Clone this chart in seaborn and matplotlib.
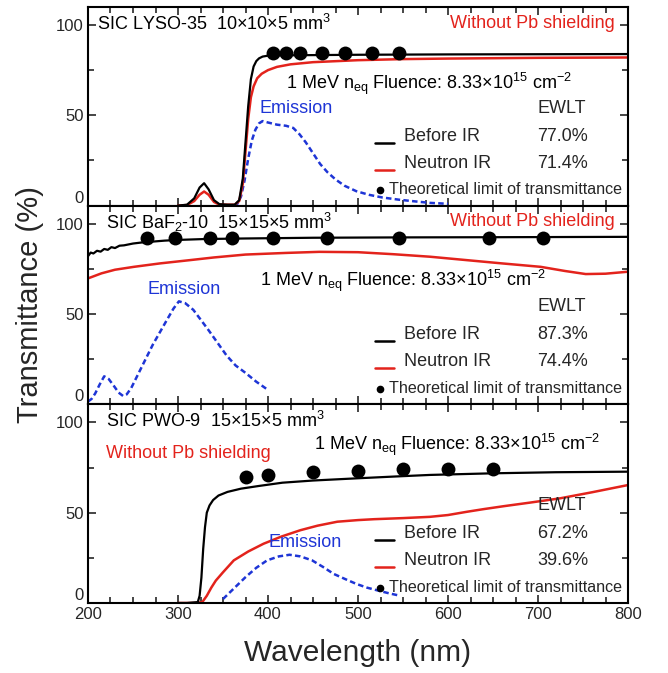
import matplotlib
matplotlib.use("Agg")
import matplotlib.pyplot as plt
import seaborn as sns
import pandas as pd
from matplotlib.ticker import MultipleLocator

# ---------------- data ----------------
# LYSO-35
lyso_before_wl = [300, 310, 318, 324, 329, 334, 340, 346, 355, 363, 368, 372, 375, 378, 381, 384, 387, 390, 394, 400, 420, 500, 600, 700, 800]
lyso_before_t = [0, 0.5, 4, 10, 12.4, 9, 3, 0.8, 0.5, 0.5, 3, 15, 35, 55, 70, 77, 80, 81.5, 82.5, 83, 83.2, 83.5, 83.7, 83.8, 83.9]
lyso_after_wl = [300, 310, 318, 324, 329, 334, 340, 346, 355, 363, 368, 372, 375, 378, 381, 384, 388, 393, 400, 410, 425, 450, 500, 550, 600, 700, 800]
lyso_after_t = [0, 0.3, 2.5, 6, 7.8, 6, 2, 0.5, 0.5, 0.5, 2.5, 12, 30, 48, 60, 66, 70.5, 73, 75, 76.8, 78.2, 79.4, 80.5, 81.1, 81.4, 81.8, 82.0]
lyso_em_wl = [362, 366, 370, 374, 378, 382, 386, 390, 394, 400, 410, 420, 428, 435, 442, 450, 458, 466, 475, 485, 498, 512, 527, 545, 560, 580, 600]
lyso_em = [0, 1, 5, 14, 26, 36, 42, 45.5, 46.8, 46, 44.8, 44.2, 43, 39.5, 35, 29, 23, 18.5, 14.5, 11, 8, 6, 4.5, 3.3, 2.5, 1.5, 1]
lyso_lim_wl = [405, 420, 435, 460, 485, 515, 545]
lyso_lim_t = [84.4, 84.4, 84.4, 84.4, 84.4, 84.4, 84.4]

# BaF2-10
baf_before_wl = [200, 203, 206, 210, 214, 218, 222, 226, 230, 235, 240, 250, 260, 270, 285, 300, 330, 375, 450, 550, 650, 800]
baf_before_t = [82, 84, 83.5, 85, 84.5, 86, 85.5, 87, 86.5, 87.8, 88, 89, 89.6, 90, 90.6, 91, 91.5, 91.8, 92.2, 92.4, 92.5, 92.7]
baf_after_wl = [200, 215, 230, 251, 280, 313, 340, 375, 420, 457, 500, 539, 580, 621, 660, 703, 730, 753, 775, 800]
baf_after_t = [69.7, 72.5, 74.5, 76.1, 78, 79.8, 81.3, 82.9, 83.8, 84.4, 84.2, 83.1, 81.7, 79.8, 78, 76.1, 73.8, 72.1, 72.3, 73.4]
baf_em_wl = [200, 204, 208, 213, 218, 223, 229, 234, 239, 243, 248, 255, 264, 272, 280, 288, 295, 301, 308, 317, 325, 334, 344, 354, 364, 375, 387, 399]
baf_em = [1.5, 3, 6, 11, 15.5, 14, 10, 6.5, 4.6, 5.5, 9, 16, 25, 33, 40, 47, 53, 57, 56, 52.3, 47, 41, 34, 27, 21.5, 17.4, 12.5, 8.3]
baf_lim_wl = [265, 297, 335, 360, 405, 465, 545, 645, 705]
baf_lim_t = [92.3, 92.3, 92.3, 92.3, 92.3, 92.3, 92.3, 92.3, 92.3]

# PWO-9
pwo_before_wl = [300, 310, 322, 324, 326, 328, 330, 332, 335, 339, 345, 355, 370, 390, 416, 450, 498, 540, 580, 650, 720, 800]
pwo_before_t = [0, 0, 0.5, 4, 14, 30, 42, 50, 54, 57, 59.5, 61.5, 63.3, 64.8, 66.6, 67.8, 69, 70, 70.9, 71.8, 72.4, 72.7]
pwo_after_wl = [300, 320, 327, 332, 337, 342, 350, 362, 378, 395, 415, 436, 455, 477, 500, 518, 550, 580, 600, 621, 640, 662, 690, 724, 760, 800]
pwo_after_t = [0, 0, 0.5, 4, 8.5, 12.4, 17, 23.6, 28.5, 32.8, 36.8, 40.3, 42.8, 45, 45.9, 46.4, 47, 47.7, 48.7, 50.5, 52, 53.6, 55.5, 57.9, 61.3, 65.3]
pwo_em_wl = [350, 362, 375, 387, 399, 412, 424, 436, 449, 461, 473, 486, 498, 510, 523, 535, 547]
pwo_em = [2.2, 8, 14.3, 19.5, 23.6, 25.8, 26.7, 25.8, 23.6, 20, 16.1, 13.2, 10.6, 8.5, 6.8, 5.3, 4.0]
pwo_lim_wl = [375, 400, 450, 500, 550, 600, 650]
pwo_lim_t = [69.6, 70.7, 72.4, 73.2, 74.0, 74.2, 74.4]

titles = ["SIC LYSO-35  10\u00d710\u00d75 mm$^3$",
          "SIC BaF$_2$-10  15\u00d715\u00d75 mm$^3$",
          "SIC PWO-9  15\u00d715\u00d75 mm$^3$"]
ewlt_before = ["77.0%", "87.3%", "67.2%"]
ewlt_after = ["71.4%", "74.4%", "39.6%"]
x_ticks = [200, 300, 400, 500, 600, 700, 800]
y_ticks = [0, 50, 100]
y_tick_labels = ["0", "50", "100"]

# ---------------- style ----------------
sns.set_style("ticks")
plt.rcParams['font.family'] = ['Liberation Sans', 'DejaVu Sans']
plt.rcParams['mathtext.fontset'] = 'custom'
plt.rcParams['mathtext.rm'] = 'Liberation Sans'
plt.rcParams['mathtext.it'] = 'Liberation Sans:italic'
plt.rcParams['mathtext.default'] = 'regular'

BLACK = "#000000"
RED = "#e3231c"
BLUE = "#1e35d6"

fig = plt.figure(figsize=(6.68, 6.73), dpi=100)
L, W = 88 / 668, 540 / 668
H = 198.7 / 673
B0 = 1 - 603 / 673
axes = [fig.add_axes([L, B0 + 2 * H, W, H]),
        fig.add_axes([L, B0 + H, W, H]),
        fig.add_axes([L, B0, W, H])]

panels = [
    (lyso_before_wl, lyso_before_t, lyso_after_wl, lyso_after_t, lyso_em_wl, lyso_em, lyso_lim_wl, lyso_lim_t),
    (baf_before_wl, baf_before_t, baf_after_wl, baf_after_t, baf_em_wl, baf_em, baf_lim_wl, baf_lim_t),
    (pwo_before_wl, pwo_before_t, pwo_after_wl, pwo_after_t, pwo_em_wl, pwo_em, pwo_lim_wl, pwo_lim_t),
]

fs = 13
for i, (ax, p) in enumerate(zip(axes, panels)):
    bw, bt, aw, at, ew, e, lw_, lt = p
    sns.lineplot(x=ew, y=e, ax=ax, color=BLUE, lw=1.8, sort=False, estimator=None,
                 linestyle=(0, (2.2, 1.3)))
    sns.lineplot(x=aw, y=at, ax=ax, color=RED, lw=1.8, sort=False, estimator=None)
    sns.lineplot(x=bw, y=bt, ax=ax, color=BLACK, lw=1.6, sort=False, estimator=None)
    sns.scatterplot(x=lw_, y=lt, ax=ax, color=BLACK, s=100, edgecolor=BLACK, linewidth=0, zorder=5)

    ax.set_xlim(200, 800)
    ax.set_ylim(0, 110)
    ax.set_xticks(x_ticks)
    ax.set_yticks(y_ticks)
    ax.set_yticklabels(y_tick_labels)
    ax.xaxis.set_minor_locator(MultipleLocator(25))
    ax.yaxis.set_minor_locator(MultipleLocator(25))
    ax.tick_params(which='both', direction='in', top=True, right=True, width=1.2, labelsize=12)
    ax.tick_params(which='major', length=6)
    ax.tick_params(which='minor', length=4)
    ax.tick_params(axis='y', pad=3)
    ax.tick_params(axis='x', pad=3)
    ax.get_yticklabels()[0].set_va('bottom')
    for s in ax.spines.values():
        s.set_linewidth(1.5)
        s.set_color('black')
    ax.set_xlabel("")
    ax.set_ylabel("")
    if i < 2:
        ax.tick_params(labelbottom=False)

    T = ax.transAxes
    xs = 0.017 if i == 0 else 0.033
    ax.text(xs, 0.915, titles[i], transform=T, fontsize=fs, va='center', ha='left', color=BLACK)
    if i < 2:
        ax.text(0.975, 0.918, "Without Pb shielding", transform=T, fontsize=fs, va='center', ha='right', color=RED)
    else:
        ax.text(0.033, 0.754, "Without Pb shielding", transform=T, fontsize=fs, va='center', ha='left', color=RED)
    flu = "1 MeV n$_{eq}$ Fluence: 8.33\u00d710$^{15}$ cm$^{-2}$"
    fpos = [(0.367, 0.615), (0.318, 0.62), (0.418, 0.797)][i]
    ax.text(fpos[0], fpos[1], flu, transform=T, fontsize=13, va='center', ha='left', color=BLACK)
    epos = [(0.318, 0.49), (0.111, 0.58), (0.335, 0.305)][i]
    ax.text(epos[0], epos[1], "Emission", transform=T, fontsize=fs, va='center', ha='left', color=BLUE)

    ax.text(0.832, 0.49, "EWLT", transform=T, fontsize=fs, va='center', ha='left')
    ax.text(0.585, 0.35, "Before IR", transform=T, fontsize=fs, va='center', ha='left')
    ax.text(0.832, 0.35, ewlt_before[i], transform=T, fontsize=fs, va='center', ha='left')
    ax.text(0.585, 0.214, "Neutron IR", transform=T, fontsize=fs, va='center', ha='left')
    ax.text(0.832, 0.214, ewlt_after[i], transform=T, fontsize=fs, va='center', ha='left')
    ax.plot([0.532, 0.566], [0.317, 0.317], transform=T, color=BLACK, lw=1.8)
    ax.plot([0.532, 0.566], [0.181, 0.181], transform=T, color=RED, lw=1.8)
    ax.plot([0.541], [0.077], transform=T, marker='o', ms=4.5, color=BLACK, ls='none')
    ax.text(0.557, 0.079, "Theoretical limit of transmittance", transform=T, fontsize=11.6,
            va='center', ha='left')

axes[2].set_xlabel("Wavelength (nm)", fontsize=21.5, labelpad=12)
fig.text(0.045, (B0 + 1.5 * H), "Transmittance (%)", rotation=90, fontsize=21,
         va='center', ha='center')

fig.savefig("out.png", dpi=100)
